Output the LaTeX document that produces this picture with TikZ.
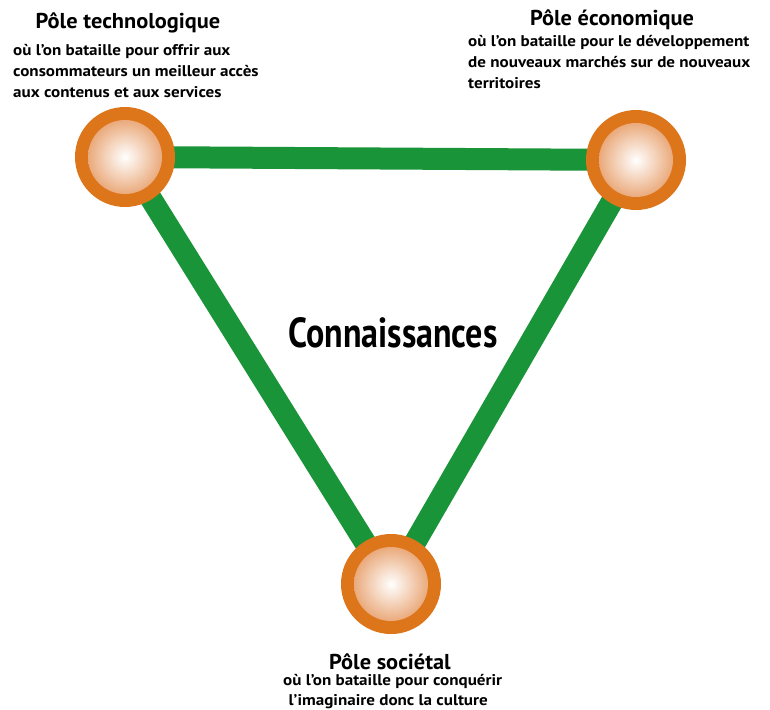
\documentclass[tikz,border=0pt]{standalone}
\usepackage{fontspec}
\setmainfont{PT Sans}
\definecolor{ringorange}{HTML}{DD761B}
\definecolor{innerorange}{HTML}{DF7B30}
\definecolor{midorange}{HTML}{EAAA7C}
\definecolor{linegreen}{HTML}{1A9439}
\pgfdeclareradialshading{ballsh}{\pgfpoint{0bp}{0bp}}{color(0bp)=(white); color(25bp)=(midorange); color(50bp)=(innerorange)}
\tikzset{
  link/.style={draw=linegreen, line width=22pt},
  title/.style={font=\bfseries\fontsize{21.5}{24}\selectfont, inner sep=0pt, xscale=1.04, transform shape},
  body/.style={inner sep=0pt, align=left, xscale=1.1, transform shape},
}
\begin{document}
\begin{tikzpicture}[x=1pt,y=-1pt]
\useasboundingbox (0,0) rectangle (770,709);
\fill[white] (0,0) rectangle (770,709);
% pole positions
\coordinate (tech) at (125,157);
\coordinate (eco) at (636,160);
\coordinate (soc) at (391,584);
% links
\path[link] (tech) -- (eco);
\path[link] (tech) -- (soc);
\path[link] (eco) -- (soc);
% poles
\foreach \p in {tech,eco,soc}{
  \fill[ringorange] (\p) circle (50);
  \shade[shading=ballsh] (\p) circle (37);
}
% center label
\node[font=\bfseries\fontsize{42}{44}\selectfont, inner sep=0pt, xscale=0.81, transform shape, anchor=base] (know) at (393,347) {Connaissances};
% texts
\node[title, anchor=base] (t1) at (128,29) {Pôle technologique};
\node[body, anchor=base west, font=\bfseries\fontsize{15.5}{21}\selectfont] (b1) at (13,97) {où l'on bataille pour offrir aux\\consommateurs un meilleur accès\\aux contenus et aux services};
\node[title, anchor=base] (t2) at (612,26) {Pôle économique};
\node[body, anchor=base west, font=\bfseries\fontsize{15.5}{20.5}\selectfont] (b2) at (468,88) {où l'on bataille pour le développement\\de nouveaux marchés sur de nouveaux\\territoires};
\node[title, anchor=base] (t3) at (390,669) {Pôle sociétal};
\node[body, anchor=base west, font=\bfseries\fontsize{15.5}{19.5}\selectfont] (b3) at (283,705) {où l'on bataille pour conquérir\\\hspace*{5pt}l'imaginaire donc la culture};
\end{tikzpicture}
\end{document}
